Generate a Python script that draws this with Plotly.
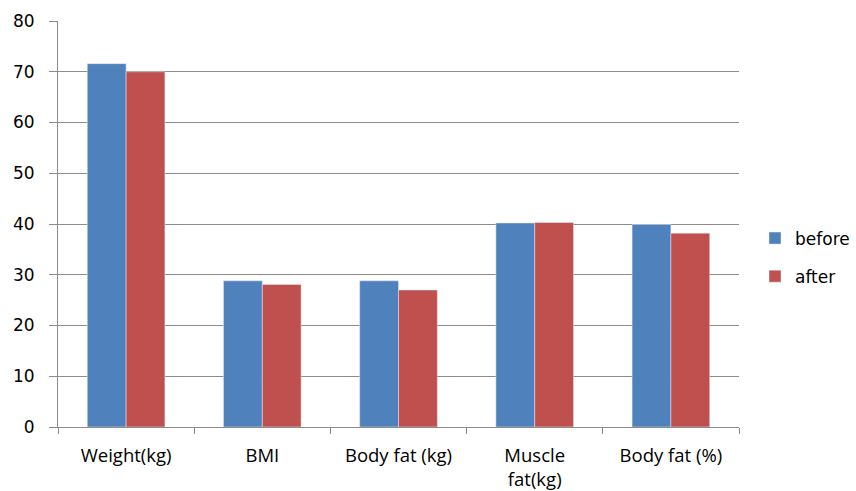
import plotly.graph_objects as go

categories = ["Weight(kg)", "BMI", "Body fat (kg)", "Muscle<br>fat(kg)", "Body fat (%)"]
before = [71.6, 28.8, 28.8, 40.2, 39.9]
after = [70.0, 28.1, 27.0, 40.3, 38.2]
y_ticks = [0, 10, 20, 30, 40, 50, 60, 70, 80]

BLUE = "#4F81BD"
RED = "#C0504D"
GRID = "#8C8C8C"

fig = go.Figure()
fig.add_trace(go.Bar(name="before", x=categories, y=before, marker_color=BLUE,
                     legendgroup="a"))
fig.add_trace(go.Bar(name="after", x=categories, y=after, marker_color=RED,
                     legendgroup="b"))

fig.update_layout(
    width=856, height=491,
    margin=dict(l=58, r=117, t=21, b=64),
    paper_bgcolor="white", plot_bgcolor="white",
    barmode="group", bargap=0.43, bargroupgap=0,
    font=dict(family="DejaVu Sans", size=16, color="#000000"),
    legend=dict(xref="container", yref="container",
                x=755 / 856, y=1 - 257.5 / 491, xanchor="left", yanchor="middle",
                traceorder="grouped", tracegroupgap=13,
                font=dict(family="DejaVu Sans", size=17)),
    xaxis=dict(
        automargin=False,
        showline=True, linecolor=GRID, linewidth=1,
        ticks="outside", tickson="boundaries", ticklen=6, tickcolor=GRID,
        tickfont=dict(family="Open Sans", size=18.5),
        ticklabelstandoff=12,
        showgrid=False,
    ),
    yaxis=dict(
        automargin=False,
        range=[0, 80], tickvals=y_ticks, showgrid=True, gridcolor=GRID, gridwidth=1,
        showline=True, linecolor=GRID, linewidth=1,
        ticks="outside", ticklen=8, tickcolor=GRID,
        tickfont=dict(family="DejaVu Sans", size=17),
        ticklabelstandoff=11, zeroline=False,
    ),
)

fig.write_html("out.html")
